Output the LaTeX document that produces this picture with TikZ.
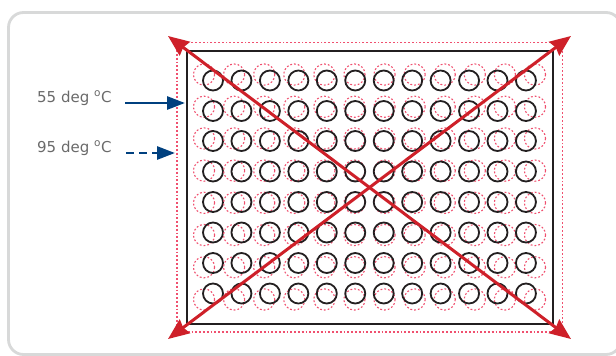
\documentclass[tikz,border=0pt]{standalone}
\usepackage{fontspec}
\setmainfont{DejaVu Sans}
\usetikzlibrary{arrows.meta}
\definecolor{frameg}{HTML}{D8D9D9}
\definecolor{pinkd}{HTML}{F0506F}
\definecolor{redar}{HTML}{CE2029}
\definecolor{bluear}{HTML}{00407F}
\definecolor{txt}{HTML}{6A6A6A}
\definecolor{well}{HTML}{231F20}
\tikzset{
  x=1pt,y=-1pt,
  frame/.style={draw=frameg,line width=2.8pt,rounded corners=15pt},
  plate/.style={draw=well,line width=2pt},
  shifted/.style={draw=pinkd,line width=1.1pt,dash pattern=on 1.8pt off 2pt},
  wellc/.style={draw=well,line width=1.8pt},
  redarrow/.style={draw=redar,line width=3pt,{Stealth[length=21pt,width=17pt,inset=2pt]}-{Stealth[length=21pt,width=17pt,inset=2pt]}},
  bluearrow/.style={draw=bluear,line width=2.8pt,-{Triangle[length=18pt,width=13pt]}},
  bluedash/.style={draw=bluear,line width=2.8pt,-{Triangle[length=18pt,width=13pt]},dash pattern=on 8pt off 5pt},
  lab/.style={text=txt,font=\fontsize{15pt}{18pt}\selectfont,inner sep=0pt,anchor=west}
}
\begin{document}
\begin{tikzpicture}
\useasboundingbox (0,0) rectangle (616,356);
\fill[white] (0,0) rectangle (616,356);
\draw[frame] (8.5,12.5) rectangle (621,354.5);
\draw[shifted] (177,42.5) rectangle (562.5,332);
\draw[plate] (187,50.5) rectangle (552.5,323.5);
\foreach \yy in {80.5,111,141,171.5,202,232.5,263,293.5}{
  \foreach \n in {0,...,11}{
    \pgfmathsetmacro{\xx}{213+\n*28.45}
    \pgfmathsetmacro{\px}{369.5+(\xx-369.5)*1.0575}
    \pgfmathsetmacro{\py}{187+(\yy-187)*1.056}
    \draw[shifted] (\px,\py) circle[radius=10.6];
    \draw[wellc] (\xx,\yy) circle[radius=10];
  }
}
\coordinate (tl) at (168,36);
\coordinate (tr) at (571,36);
\coordinate (bl) at (168,339);
\coordinate (br) at (571,339);
\draw[redarrow] (tl) -- (br);
\draw[redarrow] (tr) -- (bl);
\node[lab] (l55) at (37,98) {55 deg \textsuperscript{o}C};
\node[lab] (l95) at (37,148) {95 deg \textsuperscript{o}C};
\coordinate (a55) at (185,103);
\coordinate (a95) at (175,153);
\draw[bluearrow] (125,103) -- (a55);
\draw[bluedash] (126,153) -- (a95);
\end{tikzpicture}
\end{document}
